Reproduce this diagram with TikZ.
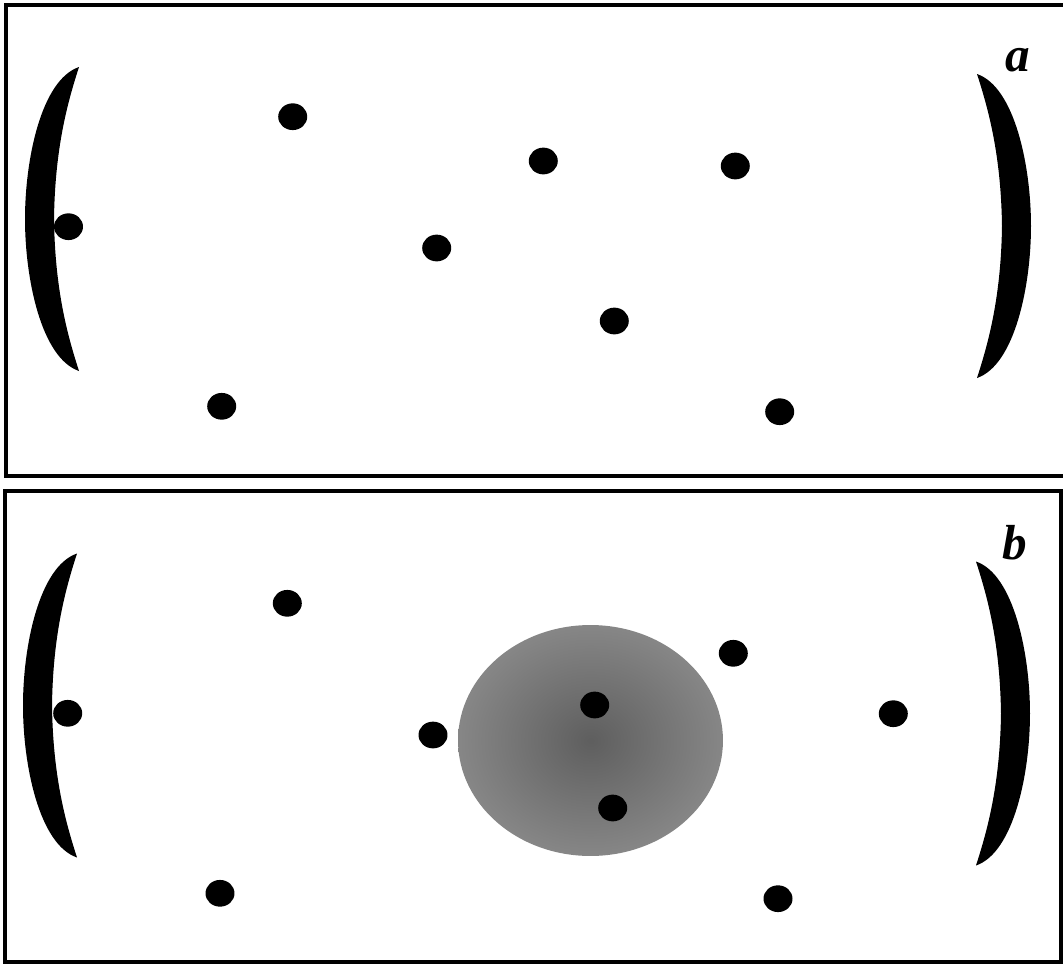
\documentclass[tikz,border=0pt]{standalone}
\usepackage{fontspec}
\setmainfont{Liberation Serif}
\usetikzlibrary{shapes.geometric}
\definecolor{glowin}{gray}{0.37}
\definecolor{glowout}{gray}{0.59}
\pgfdeclareradialshading{glow}{\pgfpoint{0bp}{0bp}}{color(0bp)=(glowin); color(35bp)=(glowout); color(50bp)=(glowout)}
\tikzset{
  dot/.style={ellipse,fill,inner sep=0pt,minimum width=0.58cm,minimum height=0.535cm},
  halo/.style={ellipse,shading=glow,inner sep=0pt,minimum width=5.3cm,minimum height=4.62cm},
  tag/.style={inner sep=0pt,font=\bfseries\itshape\fontsize{28}{34}\selectfont},
  frame/.style={draw,line width=0.08cm},
  paren/.pic={\fill (2,-152) .. controls (-36,-139) and (-52,-59) .. (-52,0)
    .. controls (-52,59) and (-36,139) .. (2,152)
    .. controls (-10,115) and (-22,70) .. (-23,0)
    .. controls (-22,-70) and (-10,-115) .. (2,-152) -- cycle;},
}
\begin{document}
\begin{tikzpicture}[x=0.02cm,y=-0.02cm]
\useasboundingbox (0,0) rectangle (1063,964);
% panel a
\draw[frame] (6,5.3) rectangle (1068,476.3);
\pic at (77,219) {paren}; \pic[xscale=-1] at (979,226) {paren};
\node[tag] (la) at (1018,60) {a};
\node[dot] (a1) at (292.7,116.7){}; \node[dot] (a2) at (543.3,161){}; \node[dot] (a3) at (735.3,166){};
\node[dot] (a4) at (68.5,226.7){}; \node[dot] (a5) at (436.7,248){}; \node[dot] (a6) at (614.3,321){};
\node[dot] (a7) at (221.7,406.3){}; \node[dot] (a8) at (779.7,411.7){};
% panel b
\draw[frame] (5.3,491.3) rectangle (1061,961.5);
\pic at (75,705.5) {paren}; \pic[xscale=-1] at (978,713.5) {paren};
\node[tag] (lb) at (1015,543) {b};
\node[halo] (hb) at (590.5,740.5){};
\node[dot] (b1) at (287.3,603.3){}; \node[dot] (b2) at (733.3,653.3){}; \node[dot] (b3) at (67.7,713.3){};
\node[dot] (b4) at (893.3,713.7){}; \node[dot] (b5) at (594.7,705){}; \node[dot] (b6) at (433,735){};
\node[dot] (b7) at (612.7,808){}; \node[dot] (b8) at (220,893.3){}; \node[dot] (b9) at (778,898.7){};
\end{tikzpicture}
\end{document}
